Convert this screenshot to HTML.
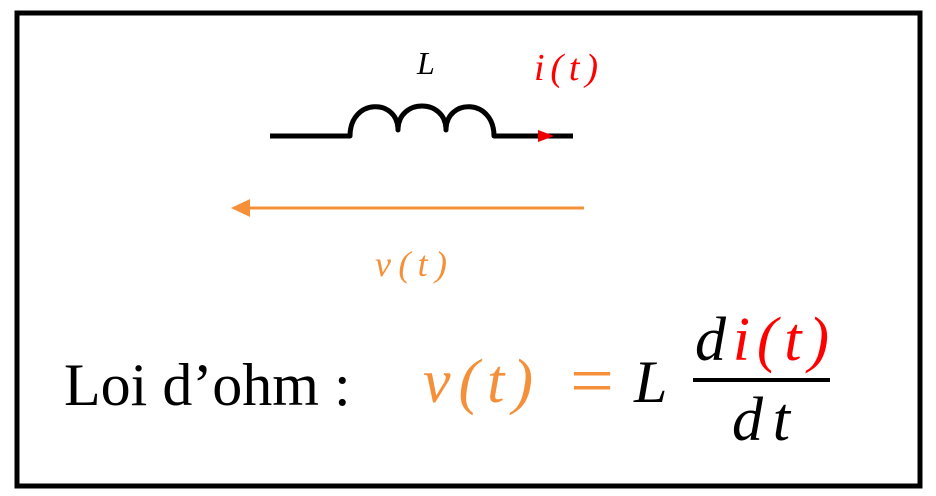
<!DOCTYPE html>
<html><head><meta charset="utf-8"><style>
html,body{margin:0;padding:0;background:#fff;}
svg{display:block;}
</style></head><body>
<svg width="936" height="496" viewBox="0 0 936 496" xmlns="http://www.w3.org/2000/svg">
<rect x="17" y="13" width="903" height="473" fill="#fff" stroke="#000" stroke-width="5"/>
<!-- inductor -->
<path d="M270 136 H350 C350 98 398 98 398 130 C398 98 446 98 446 130 C446 98 494 98 494 136 H573" fill="none" stroke="#000" stroke-width="5" stroke-linejoin="round"/>
<polygon points="538,130 554,136 538,142" fill="#e00"/>
<text x="417" y="74" font-family="Liberation Serif, serif" font-style="italic" font-size="32" fill="#000">L</text>
<text x="534" y="80" font-family="Liberation Serif, serif" font-style="italic" font-size="38" fill="#f00" textLength="64" lengthAdjust="spacing">i(t)</text>
<!-- voltage arrow -->
<line x1="245" y1="208" x2="584" y2="208" stroke="#f5903a" stroke-width="3"/>
<polygon points="231,208 250,199 250,217" fill="#f5903a"/>
<text x="375" y="276" font-family="Liberation Serif, serif" font-style="italic" font-size="36" fill="#f5903a" textLength="72" lengthAdjust="spacing">v(t)</text>
<!-- formula -->
<text x="64" y="405" font-family="Liberation Serif, serif" font-size="60" fill="#000">Loi d’ohm :</text>
<text x="423" y="402" font-family="Liberation Serif, serif" font-style="italic" font-size="62" fill="#f5903a" textLength="110" lengthAdjust="spacing">v(t)</text>
<text x="570" y="404" font-family="Liberation Serif, serif" font-size="70" fill="#f5903a" textLength="44" lengthAdjust="spacingAndGlyphs">=</text>
<text x="634" y="402" font-family="Liberation Serif, serif" font-style="italic" font-size="60" fill="#000">L</text>
<line x1="693" y1="380" x2="830" y2="380" stroke="#000" stroke-width="4"/>
<text x="695" y="360" font-family="Liberation Serif, serif" font-style="italic" font-size="62" fill="#000" textLength="134" lengthAdjust="spacing">d<tspan fill="#f00">i(t)</tspan></text>
<text x="732" y="440" font-family="Liberation Serif, serif" font-style="italic" font-size="62" fill="#000" textLength="58" lengthAdjust="spacing">dt</text>
</svg>
</body></html>
